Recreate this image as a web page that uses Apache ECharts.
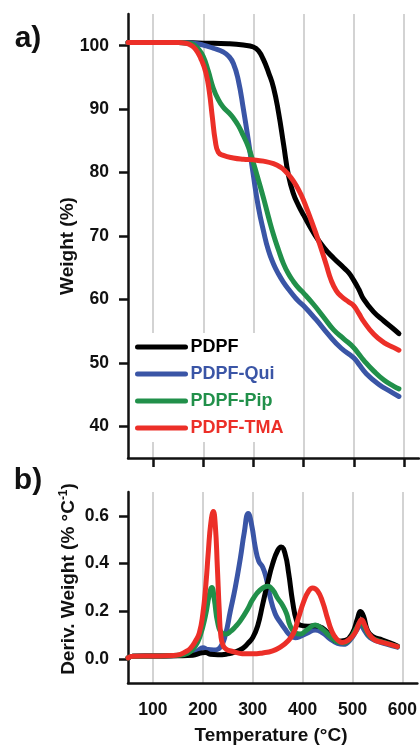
<!DOCTYPE html>
<html>
<head>
<meta charset="utf-8">
<script src="https://cdn.jsdelivr.net/npm/echarts@6/dist/echarts.min.js"></script>
<style>html,body{margin:0;padding:0;background:#fff}#c{width:420px;height:746px}</style>
</head>
<body>
<div id="c"></div>
<script>
// ---- Data ----
const seriesNames = ['PDPF', 'PDPF-Qui', 'PDPF-Pip', 'PDPF-TMA'];
const xTicks = [100, 200, 300, 400, 500, 600];
const tgaTicks = [40, 50, 60, 70, 80, 90, 100];
const dtgTicks = [0, 0.2, 0.4, 0.6];

// TGA: [temperature °C, weight %]
const tgaPDPF = [[50,100.5],[100,100.5],[150,100.5],[200,100.4],[250,100.3],[280,100.1],[300,99.8],[310,99.2],[320,97.8],[330,95.8],[340,93.4],[350,89.5],[360,84.5],[370,79.5],[380,76.6],[390,74.8],[400,73.3],[420,70.5],[440,68.2],[460,66.5],[480,65],[490,64.2],[500,63],[510,61.6],[520,60],[540,58],[560,56.6],[580,55.3],[590,54.6]];
const tgaQui = [[50,100.5],[150,100.5],[180,100.4],[200,100.1],[220,99.6],[240,99.0],[250,98.4],[260,97.2],[270,94.5],[280,90],[290,85],[300,79.5],[310,74.5],[320,70.8],[330,67.7],[340,65.6],[350,64],[360,62.7],[370,61.6],[380,60.6],[390,59.7],[400,59],[425,56.8],[450,54.4],[475,52.3],[500,50.8],[510,49.8],[525,48.3],[550,46.6],[575,45.4],[590,44.7]];
const tgaPip = [[50,100.5],[150,100.5],[170,100.4],[180,100.2],[190,99.5],[200,98.3],[210,96],[220,93.3],[230,91.5],[240,90.3],[250,89.5],[260,88.6],[270,87.4],[280,85.8],[290,84],[300,81.5],[310,78.8],[320,76],[330,73],[340,70.2],[350,67.8],[360,65.6],[370,64],[380,62.8],[390,61.8],[400,61],[420,59.2],[440,57.2],[460,55.2],[480,53.8],[500,52.4],[510,51.4],[520,50.4],[540,48.7],[560,47.3],[580,46.3],[590,45.9]];
const tgaTMA = [[50,100.5],[150,100.5],[165,100.4],[175,100.1],[185,99.4],[195,98],[205,95.8],[212,92.8],[218,88.8],[224,85],[230,83.2],[240,82.7],[260,82.3],[280,82.1],[300,82],[320,81.8],[340,81.4],[355,80.8],[365,80.1],[375,79.2],[385,78],[395,76.5],[405,74.6],[415,72.5],[425,70.3],[435,68],[445,65.5],[455,63],[465,61.4],[475,60.5],[490,59.6],[500,59],[510,57.8],[520,56.5],[540,54.5],[560,53.2],[580,52.4],[590,52]];

// DTG: [temperature °C, deriv. weight %/°C]
const dtgPDPF = [[50,0.005],[60,0.012],[100,0.013],[150,0.014],[180,0.016],[195,0.025],[205,0.028],[215,0.02],[230,0.018],[250,0.022],[265,0.03],[280,0.045],[290,0.065],[300,0.09],[310,0.14],[320,0.23],[330,0.32],[340,0.40],[350,0.455],[357,0.47],[365,0.44],[372,0.36],[380,0.24],[388,0.16],[395,0.142],[410,0.138],[425,0.14],[440,0.13],[455,0.1],[470,0.075],[485,0.078],[500,0.11],[510,0.17],[516,0.2],[522,0.18],[530,0.12],[540,0.095],[560,0.08],[575,0.068],[590,0.055]];
const dtgQui = [[50,0.005],[60,0.012],[100,0.013],[150,0.015],[175,0.022],[190,0.035],[200,0.048],[210,0.04],[222,0.038],[235,0.05],[245,0.1],[255,0.2],[265,0.3],[275,0.42],[283,0.53],[291,0.61],[298,0.56],[305,0.47],[312,0.41],[320,0.385],[327,0.34],[335,0.26],[345,0.19],[355,0.155],[365,0.125],[375,0.1],[385,0.09],[395,0.095],[410,0.11],[425,0.122],[440,0.11],[455,0.085],[470,0.066],[482,0.062],[495,0.08],[508,0.12],[516,0.145],[524,0.12],[535,0.09],[550,0.075],[570,0.062],[590,0.05]];
const dtgPip = [[50,0.005],[60,0.012],[100,0.013],[150,0.016],[170,0.025],[185,0.055],[195,0.1],[205,0.18],[213,0.27],[218,0.30],[223,0.25],[230,0.15],[238,0.11],[247,0.105],[255,0.115],[265,0.135],[275,0.16],[290,0.21],[300,0.25],[315,0.29],[330,0.305],[340,0.29],[350,0.255],[360,0.225],[368,0.19],[375,0.14],[385,0.11],[395,0.105],[410,0.125],[425,0.143],[440,0.125],[455,0.095],[470,0.072],[482,0.068],[495,0.085],[508,0.13],[517,0.155],[525,0.13],[535,0.095],[550,0.078],[570,0.065],[590,0.052]];
const dtgTMA = [[50,0.005],[60,0.012],[100,0.013],[140,0.015],[155,0.02],[165,0.03],[175,0.045],[185,0.075],[193,0.11],[200,0.19],[206,0.31],[211,0.45],[216,0.57],[221,0.618],[225,0.56],[229,0.39],[233,0.2],[236,0.1],[241,0.055],[248,0.04],[258,0.033],[270,0.026],[285,0.022],[300,0.022],[320,0.026],[340,0.035],[355,0.05],[370,0.075],[382,0.11],[392,0.175],[402,0.24],[412,0.285],[420,0.298],[430,0.285],[440,0.24],[450,0.17],[458,0.12],[468,0.085],[480,0.07],[492,0.08],[505,0.11],[512,0.145],[518,0.165],[525,0.14],[533,0.105],[545,0.08],[560,0.07],[575,0.062],[590,0.052]];

// ---- Style ----
const colors = {'PDPF':'#000000','PDPF-Qui':'#3a55a6','PDPF-Pip':'#21904a','PDPF-TMA':'#ec2f28'};
const FONT = '"Liberation Sans", Arial, sans-serif';
const axisLineStyle = {color:'#111', width:2.5};

function xAxisCfg(gridIndex, showLabel, showTick){
  return {
    type:'value', gridIndex, min:50, max:630,
    axisLine:{show:true, onZero:false, lineStyle:axisLineStyle},
    axisTick:{show:showTick, customValues:xTicks, length:9, inside:false, lineStyle:{color:'#111', width:2.5}},
    axisLabel:{show:showLabel, customValues:xTicks, margin:18, color:'#111', fontSize:17.5, fontWeight:'bold', fontFamily:FONT},
    splitLine:{show:true, lineStyle:{color:'#c4c4c4', width:1.5}}
  };
}

function lineSeries(name, data, xi, yi){
  return {
    name, type:'line', data, xAxisIndex:xi, yAxisIndex:yi,
    showSymbol:false, symbol:'none', smooth:0.5,
    lineStyle:{color:colors[name], width:5, cap:'round', join:'round'},
    itemStyle:{color:colors[name]},
    emphasis:{disabled:true}, animation:false
  };
}

const chart = echarts.init(document.getElementById('c'), null, {renderer:'canvas'});
chart.setOption({
  animation:false,
  backgroundColor:'#fff',
  grid:[
    {left:128, right:1, top:14, height:444},
    {left:128, right:1, top:492, height:191}
  ],
  xAxis:[ xAxisCfg(0,false,true), xAxisCfg(1,true,false) ],
  yAxis:[
    {type:'value', gridIndex:0, min:35, max:105,
     axisLine:{show:true, onZero:false, lineStyle:axisLineStyle},
     axisTick:{show:true, customValues:tgaTicks, length:9, lineStyle:{color:'#111', width:2.5}},
     axisLabel:{customValues:tgaTicks, margin:19, color:'#111', fontSize:17.5, fontWeight:'bold', fontFamily:FONT},
     splitLine:{show:false}},
    {type:'value', gridIndex:1, min:-0.1, max:0.7,
     axisLine:{show:true, onZero:false, lineStyle:axisLineStyle},
     axisTick:{show:true, customValues:dtgTicks, length:9, lineStyle:{color:'#111', width:2.5}},
     axisLabel:{customValues:dtgTicks, margin:19, color:'#111', fontSize:17.5, fontWeight:'bold', fontFamily:FONT,
       formatter:v=>v.toFixed(1)},
     splitLine:{show:false}}
  ],
  legend:{
    show:true, left:131, top:333, orient:'vertical', padding:[5,6,5,4],
    backgroundColor:'#ffffff',
    itemWidth:48, itemHeight:18, itemGap:9,
    lineStyle:{width:5, cap:'round'},
    itemStyle:{opacity:0},
    textStyle:{fontSize:18, fontWeight:'bold', fontFamily:FONT},
    selectedMode:false,
    data: seriesNames.map(n=>({name:n, textStyle:{color:colors[n]}}))
  },
  series:[
    lineSeries('PDPF', tgaPDPF, 0, 0),
    lineSeries('PDPF-Qui', tgaQui, 0, 0),
    lineSeries('PDPF-Pip', tgaPip, 0, 0),
    lineSeries('PDPF-TMA', tgaTMA, 0, 0),
    lineSeries('PDPF-Qui', dtgQui, 1, 1),
    lineSeries('PDPF', dtgPDPF, 1, 1),
    lineSeries('PDPF-Pip', dtgPip, 1, 1),
    lineSeries('PDPF-TMA', dtgTMA, 1, 1)
  ],
  graphic:[
    {type:'text', x:28, y:39, style:{text:'a)', font:'bold 30px '+FONT, fill:'#111', align:'center', verticalAlign:'middle', textAlign:'center', textVerticalAlign:'middle'}},
    {type:'text', x:28, y:481, style:{text:'b)', font:'bold 30px '+FONT, fill:'#111', align:'center', verticalAlign:'middle', textAlign:'center', textVerticalAlign:'middle'}},
    {type:'text', x:68, y:246, rotation:Math.PI/2, style:{text:'Weight (%)', font:'bold 19px '+FONT, fill:'#111', align:'center', verticalAlign:'middle', textAlign:'center', textVerticalAlign:'middle'}},
    {type:'text', x:69, y:579, rotation:Math.PI/2, style:{
      text:'{n|Deriv. Weight (% °C}{s|-1}{n|)}',
      align:'center', verticalAlign:'middle', textAlign:'center', textVerticalAlign:'middle',
      rich:{
        n:{fontSize:19, fontWeight:'bold', fontFamily:FONT, fill:'#111', lineHeight:22},
        s:{fontSize:12, fontWeight:'bold', fontFamily:FONT, fill:'#111', lineHeight:12, verticalAlign:'top'}
      }}},
    {type:'text', x:271, y:736, style:{text:'Temperature (°C)', font:'bold 19px '+FONT, fill:'#111', align:'center', verticalAlign:'middle', textAlign:'center', textVerticalAlign:'middle'}}
  ]
});
</script>
</body>
</html>
